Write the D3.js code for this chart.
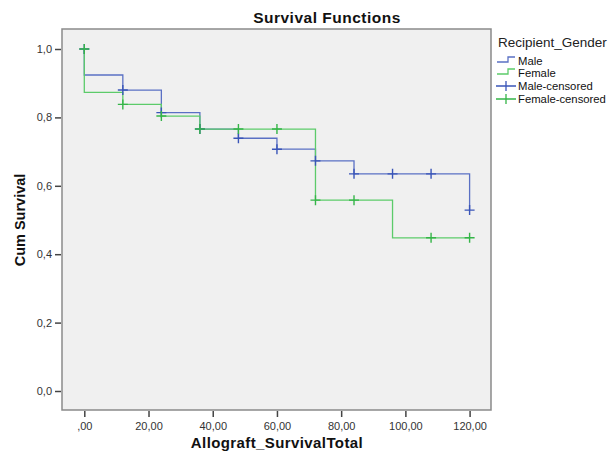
<!DOCTYPE html>
<html>
<head>
<meta charset="utf-8">
<script src="https://cdn.jsdelivr.net/npm/d3@7/dist/d3.min.js"></script>
<style>
body { margin: 0; background: #fff; }
text { font-family: "Liberation Sans", Arial, sans-serif; }
</style>
</head>
<body>
<svg width="616" height="452"></svg>
<script>
// step curves: [time, survival]
const maleSteps = [[0,1.0],[0,0.924],[12,0.880],[24,0.814],[36,0.766],[48,0.739],[60,0.707],[72,0.673],[84,0.635],[120,0.529]]
const femaleSteps = [[0,1.0],[0,0.873],[12,0.838],[24,0.804],[36,0.766],[72,0.558],[96,0.448]]
const maleEnd = 120, femaleEnd = 120
const maleCens = [[0,1.0],[12,0.880],[24,0.814],[36,0.766],[48,0.739],[60,0.707],[72,0.673],[84,0.635],[96,0.635],[108,0.635],[120,0.529]]
const femaleCens = [[0,1.0],[12,0.838],[24,0.804],[36,0.766],[48,0.766],[60,0.766],[72,0.558],[84,0.558],[108,0.448],[120,0.448]]
const xTicks = [0,20,40,60,80,100,120]
const yTicks = [0,0.2,0.4,0.6,0.8,1.0]
const legendItems = ["Male","Female","Male-censored","Female-censored"]

const blue = "#5a70c4", green = "#5ccb6a"
const blueDark = "#3a55b8", greenDark = "#35b548"

const svg = d3.select("svg")
const box = {left: 62, top: 29, right: 491, bottom: 410}

const x = d3.scaleLinear().domain([0,120]).range([84.3,469.6])
const y = d3.scaleLinear().domain([0,1]).range([391,49])

svg.append("rect").attr("x", box.left).attr("y", box.top)
	.attr("width", box.right - box.left).attr("height", box.bottom - box.top)
	.attr("fill", "#f0f0f0").attr("stroke", "#8a8a8a").attr("stroke-width", 1.5)

const fmt = d => d3.format(".2f")(d).replace(".", ",").replace(/^0,/, ",")
const xAxis = d3.axisBottom(x).tickValues(xTicks).tickSize(6).tickFormat(fmt)
const yAxis = d3.axisLeft(y).tickValues(yTicks).tickSize(6).tickFormat(d => d3.format(".1f")(d).replace(".", ","))

const gx = svg.append("g").attr("transform", `translate(0,${box.bottom + 1})`).call(xAxis)
const gy = svg.append("g").attr("transform", `translate(${box.left - 1},0)`).call(yAxis)
;[gx, gy].forEach(g => {
	g.select(".domain").remove()
	g.selectAll("line").attr("stroke", "#444").attr("stroke-width", 1.5)
	g.selectAll("text").attr("fill", "#333").style("font-size", "11px")
})
gx.selectAll("text").attr("dy", "0.9em")

function stepPath(steps, end){
	let p = []
	steps.forEach((s,i) => {
		if (i > 0) p.push([s[0], steps[i-1][1]])
		p.push(s)
	})
	p.push([end, steps[steps.length-1][1]])
	return d3.line().x(d => x(d[0])).y(d => y(d[1]))(p)
}

svg.append("path").attr("d", stepPath(maleSteps, maleEnd))
	.attr("fill", "none").attr("stroke", blue).attr("stroke-width", 1.3)
svg.append("path").attr("d", stepPath(femaleSteps, femaleEnd))
	.attr("fill", "none").attr("stroke", green).attr("stroke-width", 1.3)

function crosses(data, col){
	svg.append("g").selectAll("path").data(data).enter().append("path")
		.attr("d", d => `M${x(d[0])-5},${y(d[1])}h10M${x(d[0])},${y(d[1])-5}v10`)
		.attr("stroke", col).attr("stroke-width", 1.4)
}
crosses(maleCens, blueDark)
crosses(femaleCens, greenDark)

// titles
svg.append("text").attr("x", 327).attr("y", 23).attr("text-anchor", "middle")
	.style("font-size", "15.5px").style("font-weight", "bold").style("letter-spacing", "0.5px").attr("fill", "#111").text("Survival Functions")
svg.append("text").attr("x", 277).attr("y", 448).attr("text-anchor", "middle")
	.style("font-size", "15px").style("font-weight", "bold").style("letter-spacing", "0.4px").attr("fill", "#111").text("Allograft_SurvivalTotal")
svg.append("text").attr("transform", "translate(25,220) rotate(-90)").attr("text-anchor", "middle")
	.style("font-size", "14.5px").style("font-weight", "bold").attr("fill", "#111").text("Cum Survival")

// legend
const lg = svg.append("g")
lg.append("text").attr("x", 498).attr("y", 47).style("font-size", "13.5px").attr("fill", "#222").text("Recipient_Gender")
const ly = [61, 73, 86, 99]
legendItems.forEach((name, i) => {
	const yy = ly[i]
	const col = i % 2 === 0 ? blue : green
	if (i < 2) {
		lg.append("path").attr("d", `M497,${yy+1}h11v-5h7`).attr("fill", "none").attr("stroke", col).attr("stroke-width", 1.3)
	} else {
		lg.append("path").attr("d", `M496,${yy}h20M506,${yy-5}v10`).attr("stroke", i === 2 ? blueDark : greenDark).attr("stroke-width", 1.3)
	}
	lg.append("text").attr("x", 518).attr("y", yy + 4).style("font-size", "11.3px").attr("fill", "#111").text(name)
})
</script>
</body>
</html>
